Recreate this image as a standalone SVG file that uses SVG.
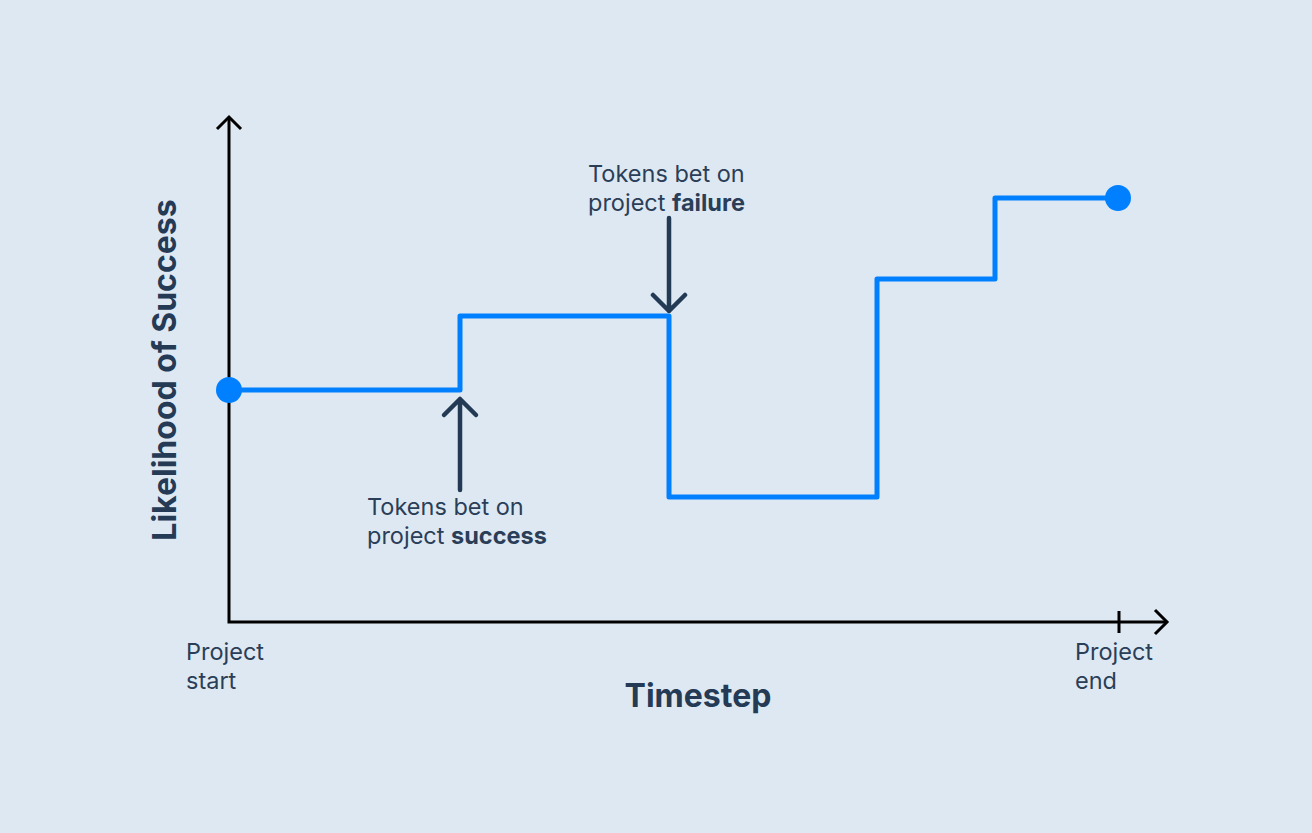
<svg xmlns="http://www.w3.org/2000/svg" width="1312" height="833" viewBox="0 0 1312 833">
<style>
.lbl{font-family:Inter,"Liberation Sans",sans-serif;font-size:23.5px;fill:#2a3e58}
.b{font-weight:700}
.title{font-family:Inter,"Liberation Sans",sans-serif;font-size:32px;font-weight:700;fill:#243a55}
.axis{stroke:#000;stroke-width:3;fill:none}
.ann{stroke:#233a54;stroke-width:4.5;fill:none;stroke-linecap:round;stroke-linejoin:round}
.step{stroke:#0080ff;stroke-width:5;fill:none;stroke-linejoin:round}
</style>
<rect width="1312" height="833" fill="#dee8f2"/>
<g id="axes">
<path class="axis" d="M229,117 V622 H1167"/>
<path class="axis" d="M217,129 L229,117 L241,129"/>
<path class="axis" d="M1155,610 L1167,622 L1155,634"/>
<path class="axis" d="M1119,611 V633"/>
</g>
<g id="connectors">
<path class="step" d="M229,390 H460 V316 H669 V497 H877 V279 H995 V198 H1118"/>
<path class="ann" d="M460,490 V399 M444,415 L460,399 L476,415"/>
<path class="ann" d="M669,218 V311 M653,295 L669,311 L685,295"/>
</g>
<g id="start-point"><circle cx="229" cy="390" r="13" fill="#0080ff"/></g>
<g id="end-point"><circle cx="1118" cy="198" r="13" fill="#0080ff"/></g>
<g id="label-success">
<text class="lbl" x="367" y="515">Tokens bet on</text>
<text class="lbl" x="367" y="544">project <tspan class="b">success</tspan></text>
</g>
<g id="label-failure">
<text class="lbl" x="588" y="182">Tokens bet on</text>
<text class="lbl" x="588" y="211">project <tspan class="b">failure</tspan></text>
</g>
<g id="label-start">
<text class="lbl" x="186" y="660">Project</text>
<text class="lbl" x="186" y="689">start</text>
</g>
<g id="label-end">
<text class="lbl" x="1075" y="660">Project</text>
<text class="lbl" x="1075" y="689">end</text>
</g>
<g id="x-title"><text class="title" x="698" y="707" text-anchor="middle">Timestep</text></g>
<g id="y-title"><text class="title" transform="translate(176,370) rotate(-90)" text-anchor="middle">Likelihood of Success</text></g>
</svg>
